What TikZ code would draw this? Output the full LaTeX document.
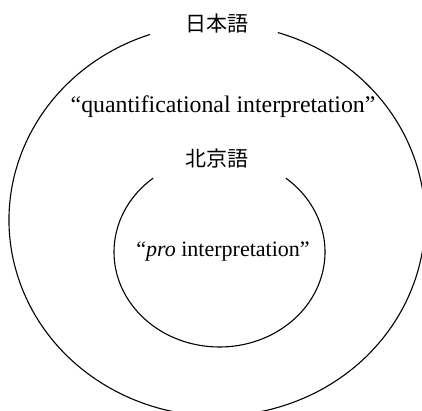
\documentclass[tikz,border=0pt]{standalone}
\usepackage{fontspec}
\usetikzlibrary{calc}
\setmainfont{Liberation Serif}
\newfontfamily\cjkfont{Noto Sans CJK JP}
\begin{document}
\begin{tikzpicture}[x=1pt,y=1pt,
  ring/.style={line width=1.1pt,black},
  cjklabel/.style={inner sep=0pt,font=\cjkfont\fontsize{21}{24}\selectfont},
  serifa/.style={inner sep=0pt,anchor=base,font=\fontsize{23.8}{28}\selectfont},
  serifb/.style={inner sep=0pt,anchor=base,font=\fontsize{22}{26}\selectfont}]
\useasboundingbox (0,0) rectangle (422,411);
% outer ellipse, open at top for label
\coordinate (oc) at (217,191);
\draw[ring] ($(oc)+(108.8:208 and 196)$) arc[start angle=108.8,end angle=433,x radius=208,y radius=196];
% inner ellipse
\coordinate (ic) at (219.5,159);
\draw[ring] ($(ic)+(129:105.5 and 95)$) arc[start angle=129,end angle=411,x radius=105.5,y radius=95];
\node[cjklabel] (jp) at (216.5,387.5) {日本語};
\node[serifa] (qi) at (223,298) {“quantificational interpretation”};
\node[cjklabel] (bj) at (216.5,252) {北京語};
\node[serifb] (pi) at (223,154) {“\textit{pro} interpretation”};
\end{tikzpicture}
\end{document}
